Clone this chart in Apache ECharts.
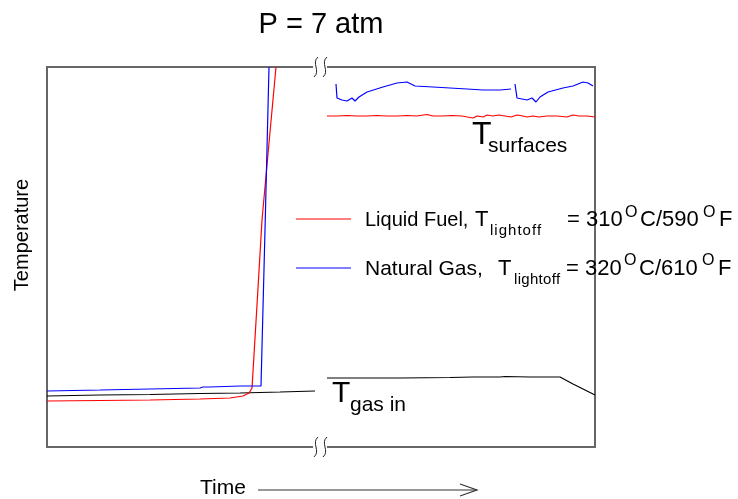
<!DOCTYPE html>
<html><head><meta charset="utf-8">
<script src="https://cdn.jsdelivr.net/npm/echarts@6/dist/echarts.min.js"></script>
<style>html,body{margin:0;padding:0;background:#fff}#c{width:738px;height:499px}</style>
</head><body><div id="c"></div>
<script>
// Time (arbitrary units) / Temperature (arbitrary units) pairs
const redLeft = [[0,46],[53,46.5],[103,47],[153,48],[183,49],[196,51],[202,54],[205,59],[210,142],[215,227],[222,304],[229,380]];
const blueLeft = [[0,56],[53,57],[103,58],[153,59],[156,60],[163,60],[193,61],[214,61],[218,217],[222,380]];
const blackLeft = [[0,51],[53,52],[103,52.5],[153,53.5],[193,54],[233,55],[268,56]];
const redRight = [[280,331],[290,331],[300,331.5],[310,331],[320,331],[330,331.5],[340,331],[350,331],[360,331.5],[370,331],[380,332.5],[386,331],[395,331],[405,331.5],[415,331],[426,329],[430,331],[436,330],[440,332],[446,331],[452,332],[458,331],[464,330],[470,332],[476,331],[480,330],[486,331],[492,330],[500,331],[510,331],[520,330],[526,332],[532,331],[540,331],[548,330]];
const blueRight1 = [[289,363],[290,349],[295,347],[300,346],[305,349],[308,346],[312,350],[320,355],[336,360],[350,364],[360,365],[368,361],[386,360],[403,359],[420,358],[436,357],[453,357],[464,358]];
const blueRight2 = [[468,363],[470,349],[475,348],[480,347],[485,349],[489,345],[493,350],[501,355],[516,359],[526,361],[536,365],[541,364],[546,361]];
const blackRight = [[280,69],[353,69],[403,69.5],[426,70],[453,70],[458,70.5],[483,70],[513,70],[526,63],[548,52]];

const FONT = "'Liberation Sans', Arial, Helvetica, sans-serif";
const ctx = document.createElement('canvas').getContext('2d');
function join(...parts){ const out=[]; parts.forEach((p,i)=>{ if(i) out.push([null,null]); out.push(...p); }); return out; }
function txt(text, x, y, size, opts){
  opts = opts || {};
  return { type:'text', z:110, x:x, y:y, rotation: opts.rotation || 0,
    style:{ text:text, fontSize:size, fontFamily:FONT, fill:'#000',
      textAlign: opts.align || 'left', align: opts.align || 'left',
      textVerticalAlign:'middle', verticalAlign:'middle' } };
}
// subscript drawn letter by letter over [x0, x1] with even extra letter spacing
function spread(text, x0, x1, y, size){
  ctx.font = size + 'px ' + FONT;
  const chars = text.split('');
  const total = ctx.measureText(text).width;
  const gap = (x1 - x0 - total) / (chars.length - 1);
  const out = []; let acc = 0;
  chars.forEach((ch, i) => {
    out.push(txt(ch, x0 + acc + i * gap, y, size));
    acc += ctx.measureText(ch).width;
  });
  return out;
}
function squiggle(x, c){
  return { type:'bezierCurve', z:111, shape:{ x1:x+2, y1:c-10, cpx1:x-5, cpy1:c-4, cpx2:x+5, cpy2:c+4, x2:x-2, y2:c+10 },
    style:{ stroke:'#222', lineWidth:1, fill:null } };
}
const axisLine = { show:true, onZero:false, lineStyle:{ color:'#666', width:2 } };
const hidden = { axisTick:{show:false}, axisLabel:{show:false}, splitLine:{show:false} };

const legend1 = [].concat(
  [txt('Liquid Fuel,', 365, 220, 20), txt('T', 475, 220, 22)], spread('lightoff', 490, 541, 231, 15),
  [txt('= 310', 567, 220, 22), txt('O', 625, 213, 16), txt('C/590', 640, 220, 22), txt('O', 703, 213, 16), txt('F', 719, 220, 22)]);
const legend2 = [].concat(
  [txt('Natural Gas,', 365, 269, 21), txt('T', 498, 269, 22)], spread('lightoff', 514, 560, 280, 15),
  [txt('= 320', 566, 269, 22), txt('O', 624, 261, 16), txt('C/610', 639, 269, 22), txt('O', 702, 261, 16), txt('F', 718, 269, 22)]);

const chart = echarts.init(document.getElementById('c'), null, {renderer:'canvas'});
chart.setOption({
  animation:false,
  backgroundColor:'#fff',
  grid:{ left:47, top:67, right:143, bottom:52, containLabel:false },
  xAxis:[
    Object.assign({ type:'value', min:0, max:548, position:'bottom', axisLine:axisLine }, hidden),
    Object.assign({ type:'value', min:0, max:548, position:'top', axisLine:axisLine }, hidden)
  ],
  yAxis:[
    Object.assign({ type:'value', min:0, max:380, position:'left', axisLine:axisLine }, hidden),
    Object.assign({ type:'value', min:0, max:380, position:'right', axisLine:axisLine }, hidden)
  ],
  series:[
    { type:'line', data: join(blackLeft, blackRight), showSymbol:false, connectNulls:false, lineStyle:{color:'#000', width:1.2}, z:3 },
    { type:'line', data: join(redLeft, redRight), showSymbol:false, connectNulls:false, lineStyle:{color:'#ff0000', width:1.2}, z:4 },
    { type:'line', data: join(blueLeft, blueRight1, blueRight2), showSymbol:false, connectNulls:false, lineStyle:{color:'#0000ff', width:1.2}, z:5 }
  ],
  graphic:[
    { type:'rect', z:100, shape:{x:313, y:60, width:14, height:14}, style:{fill:'#fff'} },
    { type:'rect', z:100, shape:{x:313, y:440, width:14, height:14}, style:{fill:'#fff'} },
    squiggle(316, 67), squiggle(325, 67), squiggle(316, 447), squiggle(325, 447),
    txt('P = 7 atm', 321, 25, 29, {align:'center'}),
    txt('Temperature', 22, 235, 20, {align:'center', rotation:Math.PI/2}),
    txt('Time', 200, 488, 21),
    { type:'line', z:110, shape:{x1:258, y1:490, x2:477, y2:490}, style:{stroke:'#333', lineWidth:1.2} },
    { type:'polyline', z:110, shape:{points:[[460,484],[477,490],[460,496]]}, style:{stroke:'#333', lineWidth:1.2, fill:null} },
    // legend
    { type:'line', z:110, shape:{x1:296, y1:219, x2:351, y2:219}, style:{stroke:'#ff0000', lineWidth:1.2} },
    { type:'line', z:110, shape:{x1:296, y1:268, x2:351, y2:268}, style:{stroke:'#0000ff', lineWidth:1.2} }
  ].concat(legend1, legend2, [
    // annotations
    txt('T', 472, 135, 32), txt('surfaces', 488, 146, 21),
    txt('T', 332, 394, 30), txt('gas in', 350, 405, 21)
  ])
});
</script></body></html>
